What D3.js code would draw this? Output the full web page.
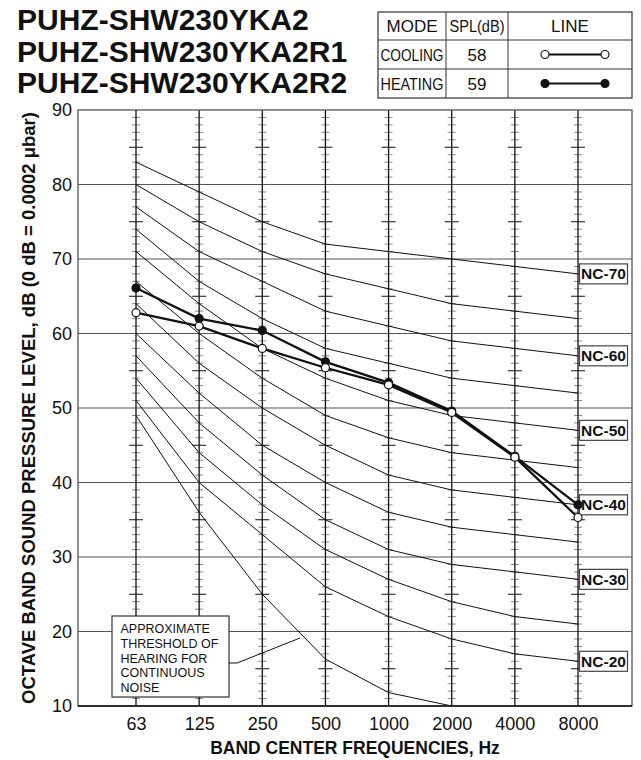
<!DOCTYPE html>
<html><head><meta charset="utf-8">
<script src="https://cdn.jsdelivr.net/npm/d3@7"></script>
<style>body{margin:0;background:#fff} svg{display:block} text{font-family:"Liberation Sans",Arial,Helvetica,sans-serif}</style>
</head><body><svg id="c" width="641" height="760"></svg>
<script>
// ---------- data ----------
const freqs = ["63","125","250","500","1000","2000","4000","8000"];
const yTicks = [10,20,30,40,50,60,70,80,90];
const ncNames = ["NC-20","NC-25","NC-30","NC-35","NC-40","NC-45","NC-50","NC-55","NC-60","NC-65","NC-70"];
const nc20 = [51,40,33,26,22,19,17,16];
const nc25 = [54,44,37,31,27,24,22,21];
const nc30 = [57,48,41,35,31,29,28,27];
const nc35 = [60,52,45,40,36,34,33,32];
const nc40 = [64,56,50,45,41,39,38,37];
const nc45 = [67,60,54,49,46,44,43,42];
const nc50 = [71,64,58,54,51,49,48,47];
const nc55 = [74,67,62,58,56,54,53,52];
const nc60 = [77,71,67,63,61,59,58,57];
const nc65 = [80,75,71,68,66,64,63,62];
const nc70 = [83,79,75,72,71,70,69,68];
const ncLabeled = ["NC-70","NC-60","NC-50","NC-40","NC-30","NC-20"];
const thresholdFreqs = ["63","125","250","500","1000","2000"];
const threshold = [49,36,25,16.3,11.8,10];
const cooling = [62.8,61.0,58.0,55.4,53.1,49.4,43.4,35.3];
const heating = [66.1,62.0,60.4,56.2,53.4,49.6,43.5,37.0];
const modes = ["COOLING","HEATING"];
const splValues = ["58","59"];
const legendHeaders = ["MODE","SPL(dB)","LINE"];
const titleLines = ["PUHZ-SHW230YKA2","PUHZ-SHW230YKA2R1","PUHZ-SHW230YKA2R2"];
const thresholdNote = ["APPROXIMATE","THRESHOLD OF","HEARING FOR","CONTINUOUS","NOISE"];
const yTitle = "OCTAVE BAND SOUND PRESSURE LEVEL, dB (0 dB = 0.0002 μbar)";
const xTitle = "BAND CENTER FREQUENCIES, Hz";

const ncSeries = [nc20,nc25,nc30,nc35,nc40,nc45,nc50,nc55,nc60,nc65,nc70];

// ---------- layout ----------
const svg = d3.select("#c");
const L = 78, R = 632, T = 110, B = 706;
const x = d3.scalePoint().domain(freqs).range([136, 578]);
const y = d3.scaleLinear().domain([10, 90]).range([B, T]);

// horizontal gridlines
svg.append("g").selectAll("line").data(yTicks.slice(1,-1)).join("line")
  .attr("x1", L).attr("x2", R).attr("y1", d => y(d)).attr("y2", d => y(d))
  .attr("stroke", "#555").attr("stroke-width", 1.2);

// vertical frequency lines with dB ticks
const minor = d3.range(11, 90).filter(v => v % 10 !== 0);
const vg = svg.append("g");
freqs.forEach(f => {
  const g = vg.append("g");
  g.selectAll("line.t").data(minor).join("line").attr("class","t")
    .attr("x1", d => x(f) - (d % 5 === 0 ? 7 : 4))
    .attr("x2", d => x(f) + (d % 5 === 0 ? 7 : 4))
    .attr("y1", d => y(d)).attr("y2", d => y(d))
    .attr("stroke", d => d % 5 === 0 ? "#111" : "#888").attr("stroke-width", 1);
  g.append("line").attr("x1", x(f)).attr("x2", x(f)).attr("y1", T).attr("y2", B)
    .attr("stroke", "#111").attr("stroke-width", 1.3);
});

// NC curves
const line = d3.line().x((d, i) => x(freqs[i])).y(d => y(d));
svg.append("g").selectAll("path").data(ncSeries).join("path")
  .attr("d", d => line(d)).attr("fill", "none").attr("stroke", "#111").attr("stroke-width", 1);

// threshold curve
const tline = d3.line().x((d, i) => x(thresholdFreqs[i])).y(d => y(d));
svg.append("path").attr("d", tline(threshold)).attr("fill","none").attr("stroke","#111").attr("stroke-width",1);

// plot border
svg.append("rect").attr("x", L).attr("y", T).attr("width", R - L).attr("height", B - T)
  .attr("fill", "none").attr("stroke", "#555").attr("stroke-width", 1.3);
svg.append("line").attr("x1", L).attr("x2", R).attr("y1", B).attr("y2", B).attr("stroke","#111").attr("stroke-width",1.5);

// NC labels
const lg = svg.append("g");
ncLabeled.forEach(n => {
  const vals = ncSeries[ncNames.indexOf(n)];
  const cy = y(vals[vals.length - 1]);
  lg.append("rect").attr("x", 579.5).attr("y", cy - 10).attr("width", 48).attr("height", 20)
    .attr("fill", "#fff").attr("stroke", "#444").attr("stroke-width", 1.2);
  lg.append("text").attr("x", 603.5).attr("y", cy + 5.5).attr("text-anchor", "middle")
    .attr("font-weight", "bold").attr("font-size", 15.5).attr("fill", "#111").text(n);
});

// threshold note box
const nb = svg.append("g");
nb.append("rect").attr("x", 112).attr("y", 616).attr("width", 117).attr("height", 81)
  .attr("fill", "#fff").attr("stroke", "#333").attr("stroke-width", 1.2);
nb.selectAll("text").data(thresholdNote).join("text")
  .attr("x", 120.5).attr("y", (d, i) => 633 + i * 14.8)
  .attr("font-size", 12.5).attr("fill", "#111").text(d => d);
nb.append("polyline").attr("points", "229,663 237,663 300,638")
  .attr("fill", "none").attr("stroke", "#111").attr("stroke-width", 1);

// data series
const sg = svg.append("g");
[heating, cooling].forEach(vals => {
  sg.append("path").attr("d", line(vals)).attr("fill", "none").attr("stroke", "#111").attr("stroke-width", 2.3);
});
[[heating, "#111"], [cooling, "#fff"]].forEach(([vals, fill]) => {
  sg.selectAll(null).data(vals).join("circle")
    .attr("cx", (d, i) => x(freqs[i])).attr("cy", d => y(d)).attr("r", 4)
    .attr("fill", fill).attr("stroke", "#111").attr("stroke-width", 1.2);
});

// axes
const ya = svg.append("g").attr("transform", `translate(${L},0)`)
  .call(d3.axisLeft(y).tickValues(yTicks).tickSize(0).tickPadding(6));
ya.select(".domain").remove();
ya.selectAll("text").attr("font-size", 18).attr("fill", "#111").style("font-family", '"Liberation Sans",Arial,sans-serif');

const xa = svg.append("g").attr("transform", `translate(0,${B})`)
  .call(d3.axisBottom(x).tickSize(0).tickPadding(11));
xa.select(".domain").remove();
xa.selectAll("text").attr("font-size", 18).attr("fill", "#111").style("font-family", '"Liberation Sans",Arial,sans-serif');

// axis titles
svg.append("text").attr("transform", `translate(35,${(T + B) / 2}) rotate(-90)`)
  .attr("text-anchor", "middle").attr("font-weight", "bold").attr("font-size", 18.5).attr("fill", "#111").text(yTitle);
svg.append("text").attr("x", (L + R) / 2).attr("y", 754).attr("text-anchor", "middle")
  .attr("font-weight", "bold").attr("font-size", 17.5).attr("fill", "#111").text(xTitle);

// title
svg.append("g").selectAll("text").data(titleLines).join("text")
  .attr("x", 17).attr("y", (d, i) => 30 + i * 31.5)
  .attr("font-weight", "bold").attr("font-size", 30).attr("fill", "#111").text(d => d);

// legend table
const tx = [378, 446, 508, 632], ty = [12, 40, 69, 98];
const tg = svg.append("g");
tg.append("rect").attr("x", tx[0]).attr("y", ty[0]).attr("width", tx[3] - tx[0]).attr("height", ty[3] - ty[0])
  .attr("fill", "#fff").attr("stroke", "#333").attr("stroke-width", 1.2);
[1, 2].forEach(i => {
  tg.append("line").attr("x1", tx[i]).attr("x2", tx[i]).attr("y1", ty[0]).attr("y2", ty[3]).attr("stroke", "#333");
  tg.append("line").attr("x1", tx[0]).attr("x2", tx[3]).attr("y1", ty[i]).attr("y2", ty[i]).attr("stroke", "#333");
});
const cx = i => (tx[i] + tx[i + 1]) / 2, cyRow = r => (ty[r] + ty[r + 1]) / 2;
const headerLen = [null, 55, null];
legendHeaders.forEach((h, i) => {
  const t = tg.append("text").attr("x", cx(i)).attr("y", cyRow(0) + 6)
    .attr("text-anchor", "middle").attr("font-size", 17).attr("fill", "#111").text(h);
  if (headerLen[i]) t.attr("textLength", headerLen[i]).attr("lengthAdjust", "spacingAndGlyphs");
});
modes.forEach((m, r) => {
  tg.append("text").attr("x", cx(0)).attr("y", cyRow(r + 1) + 6).attr("text-anchor", "middle")
    .attr("font-size", 17).attr("fill", "#111").attr("textLength", 63).attr("lengthAdjust", "spacingAndGlyphs").text(m);
  tg.append("text").attr("x", cx(1)).attr("y", cyRow(r + 1) + 6).attr("text-anchor", "middle")
    .attr("font-size", 17).attr("fill", "#111").text(splValues[r]);
  const yy = cyRow(r + 1);
  tg.append("line").attr("x1", 545).attr("x2", 605).attr("y1", yy).attr("y2", yy).attr("stroke", "#111").attr("stroke-width", 2);
  [545, 605].forEach(px => tg.append("circle").attr("cx", px).attr("cy", yy).attr("r", 4)
    .attr("fill", r === 0 ? "#fff" : "#111").attr("stroke", "#111").attr("stroke-width", 1.2));
});
</script></body></html>
